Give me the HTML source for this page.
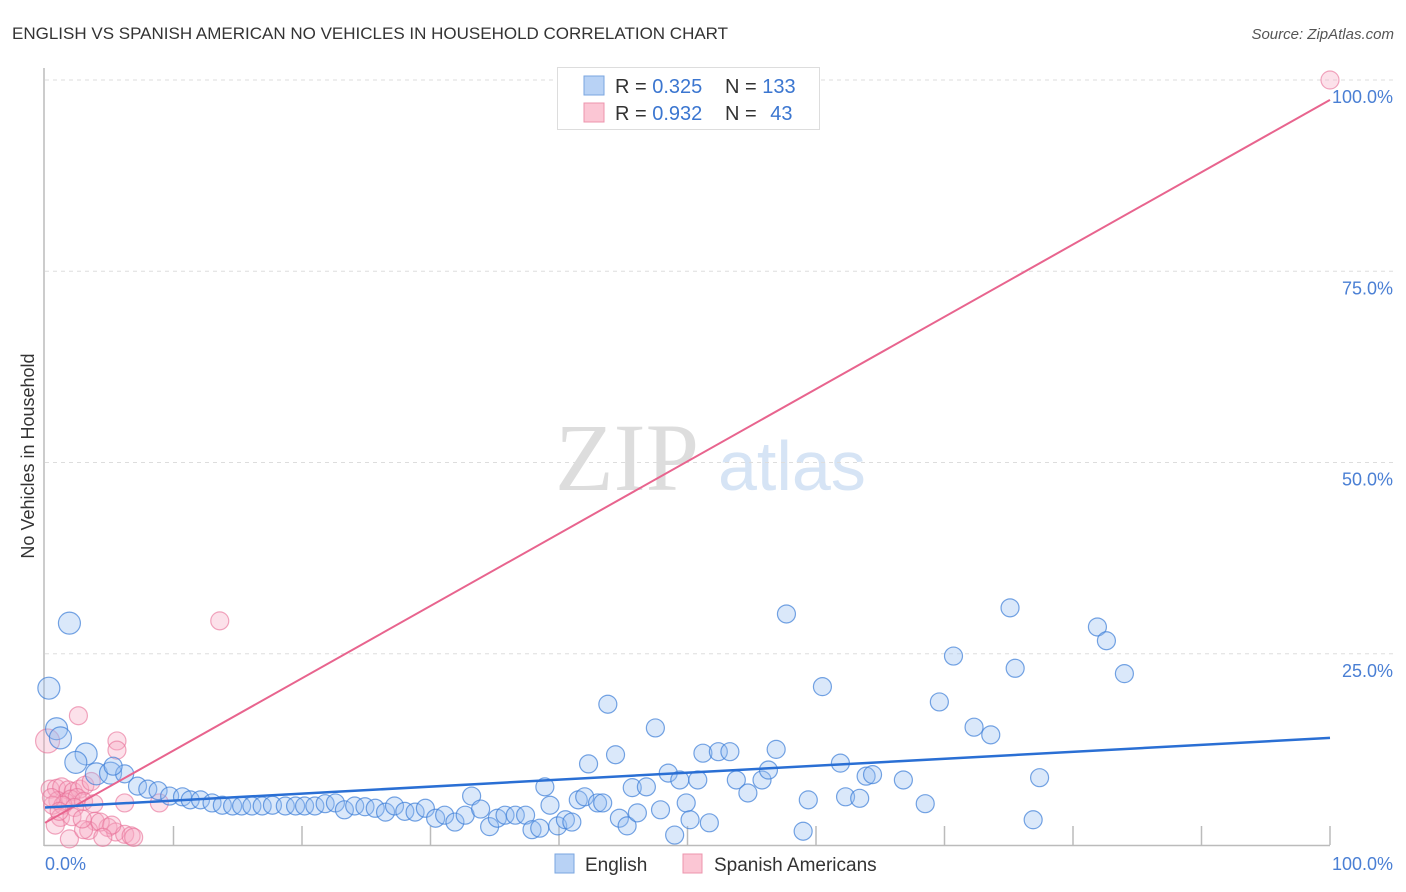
<!DOCTYPE html>
<html><head><meta charset="utf-8"><style>
body{margin:0;background:#fff;font-family:"Liberation Sans",sans-serif;}
#wrap{position:relative;width:1406px;height:892px;overflow:hidden;}
</style></head><body>
<div id="wrap">
<svg id="svg" width="1406" height="892" xmlns="http://www.w3.org/2000/svg">
<text x="12" y="39" font-size="17" fill="#333">ENGLISH VS SPANISH AMERICAN NO VEHICLES IN HOUSEHOLD CORRELATION CHART</text>
<text x="1394" y="39" font-size="15" fill="#555" font-style="italic" text-anchor="end">Source: ZipAtlas.com</text>
<text x="555" y="490" font-size="96" fill="#ddd" font-family="Liberation Serif,serif">ZIP</text>
<text x="718" y="490" font-size="70" fill="#d6e4f5">atlas</text>
<text transform="translate(34,456) rotate(-90)" font-size="18" fill="#333" text-anchor="middle">No Vehicles in Household</text>
<g id="grid"></g><g id="pts"></g><g id="lines"></g>
<g>
<rect x="557.5" y="67.5" width="262" height="62" fill="#fff" stroke="#ddd"/>
<rect x="584" y="76" width="20" height="19" fill="#b8d2f5" stroke="#7aa6e0"/>
<rect x="584" y="103" width="20" height="19" fill="#fbc6d4" stroke="#ec94ad"/>
<text x="615" y="93" font-size="20" fill="#333">R = <tspan fill="#3b76d0">0.325</tspan></text>
<text x="725" y="93" font-size="20" fill="#333">N = <tspan fill="#3b76d0">133</tspan></text>
<text x="615" y="120" font-size="20" fill="#333">R = <tspan fill="#3b76d0">0.932</tspan></text>
<text x="725" y="120" font-size="20" fill="#333">N = <tspan fill="#3b76d0" dx="8">43</tspan></text>
</g>
<g>
<rect x="555" y="854" width="19" height="19" fill="#b8d2f5" stroke="#7aa6e0"/>
<text x="585" y="871" font-size="19" fill="#333">English</text>
<rect x="683" y="854" width="19" height="19" fill="#fbc6d4" stroke="#ec94ad"/>
<text x="714" y="871" font-size="19" fill="#333">Spanish Americans</text>
</g>
</svg></div>
<script>
const yTicks=[25,50,75,100];
const yTickLabels=["25.0%","50.0%","75.0%","100.0%"];
const xTickLabels=["0.0%","100.0%"];
const englishX=[1.9,0.3,0.9,1.2,3.2,2.4,4.0,5.1,6.2,5.3,7.2,8.0,8.8,9.7,10.7,11.3,12.1,13.0,13.8,14.6,15.3,16.1,16.9,17.7,18.7,19.5,20.2,21.0,21.8,22.6,23.3,24.1,24.9,25.7,26.5,27.2,28.0,28.8,29.6,30.4,31.1,31.9,32.7,33.2,33.9,34.6,35.2,35.8,36.6,37.4,37.9,38.5,38.9,39.3,39.9,40.5,41.0,41.5,42.0,42.3,43.0,43.4,43.8,44.4,44.7,45.3,45.7,46.1,46.8,47.5,47.9,48.5,49.0,49.4,49.9,50.2,50.8,51.2,51.7,52.4,53.3,53.8,54.7,55.8,56.3,56.9,57.7,59.0,59.4,60.5,61.9,62.3,63.4,63.9,64.4,66.8,68.5,69.6,70.7,72.3,73.6,75.1,75.5,76.9,77.4,81.9,82.6,84.0];
const englishY=[29.0,20.5,15.2,14.0,11.9,10.8,9.3,9.4,9.3,10.3,7.7,7.3,7.1,6.4,6.3,5.9,5.9,5.5,5.2,5.1,5.1,5.1,5.1,5.2,5.1,5.1,5.1,5.1,5.4,5.5,4.6,5.1,5.0,4.8,4.3,5.1,4.4,4.3,4.8,3.5,3.9,3.0,3.9,6.4,4.7,2.4,3.5,3.9,3.9,3.9,2.0,2.2,7.6,5.2,2.5,3.3,3.0,5.9,6.3,10.6,5.5,5.5,18.4,11.8,3.5,2.5,7.5,4.2,7.6,15.3,4.6,9.4,1.3,8.5,5.5,3.3,8.5,12.0,2.9,12.2,12.2,8.5,6.8,8.5,9.8,12.5,30.2,1.8,5.9,20.7,10.7,6.3,6.1,9.0,9.2,8.5,5.4,18.7,24.7,15.4,14.4,31.0,23.1,3.3,8.8,28.5,26.7,22.4];
const spanishX=[0.2,2.6,5.6,5.6,13.6,0.4,0.9,1.3,1.8,2.2,2.7,3.1,3.6,1.0,1.6,2.0,2.5,3.0,3.8,0.6,1.4,2.3,6.2,8.9,1.2,2.1,3.9,3.4,4.9,5.5,6.2,6.7,0.8,1.9,4.3,5.2,3.0,4.5,100,0.5,2.9,1.1,6.9];
const spanishY=[13.6,16.9,13.6,12.4,29.3,7.3,7.4,7.6,7.2,7.0,7.3,7.8,8.3,5.8,5.6,6.0,6.2,5.7,5.4,5.2,5.2,4.9,5.5,5.5,3.6,3.7,3.1,1.9,2.3,1.7,1.4,1.2,2.6,0.8,3.0,2.6,2.0,1.0,100,6.2,3.4,4.4,1.0];
const engLine=[4.9,14.0];
const spLine=[2.9,97.4];
const X=v=>45+v*12.85, Y=v=>845-v*7.65;
const NS="http://www.w3.org/2000/svg";
function mk(t,a,p){const e=document.createElementNS(NS,t);for(const k in a)e.setAttribute(k,a[k]);p.appendChild(e);return e;}
const grid=document.getElementById('grid');
mk('line',{x1:44,y1:68,x2:44,y2:846,stroke:'#bbb','stroke-width':1.5},grid);
mk('line',{x1:44,y1:845.5,x2:1330,y2:845.5,stroke:'#bbb','stroke-width':1.5},grid);
for(let i=1;i<=10;i++){const l=mk('line',{x1:X(i*10),y1:826,x2:X(i*10),y2:845,stroke:'#bbb','stroke-width':1.5},grid);

}
yTicks.forEach((t,i)=>{const g=mk('line',{x1:45,y1:Y(t),x2:1395,y2:Y(t),stroke:'#ddd','stroke-dasharray':'4,4'},grid);


const tx=mk('text',{x:1393,y:Y(t)+23,'font-size':18,fill:'#4a7fd4','text-anchor':'end'},grid);tx.textContent=yTickLabels[i];

});
[[0,'start',45],[1,'end',1393]].forEach(([i,a,x])=>{const tx=mk('text',{x:x,y:870,'font-size':18,fill:'#4a7fd4','text-anchor':a},grid);tx.textContent=xTickLabels[i];

});
const pts=document.getElementById('pts');
spanishX.forEach((v,i)=>{const c=mk('circle',{cx:X(v),cy:Y(spanishY[i]),r:i==0?12:9,fill:'rgba(247,170,195,0.35)',stroke:'rgba(232,110,150,0.6)','stroke-width':1.2},pts);

});
englishX.forEach((v,i)=>{const c=mk('circle',{cx:X(v),cy:Y(englishY[i]),r:i<8?11:9,fill:'rgba(150,190,240,0.35)',stroke:'rgba(60,125,215,0.7)','stroke-width':1.2},pts);

});
const lines=document.getElementById('lines');
const l1=mk('line',{x1:X(0),y1:Y(spLine[0]),x2:X(100),y2:Y(spLine[1]),stroke:'#e8648e','stroke-width':2},lines);


const l2=mk('line',{x1:X(0),y1:Y(engLine[0]),x2:X(100),y2:Y(engLine[1]),stroke:'#2a6fd4','stroke-width':2.5},lines);


</script>
</body></html>
